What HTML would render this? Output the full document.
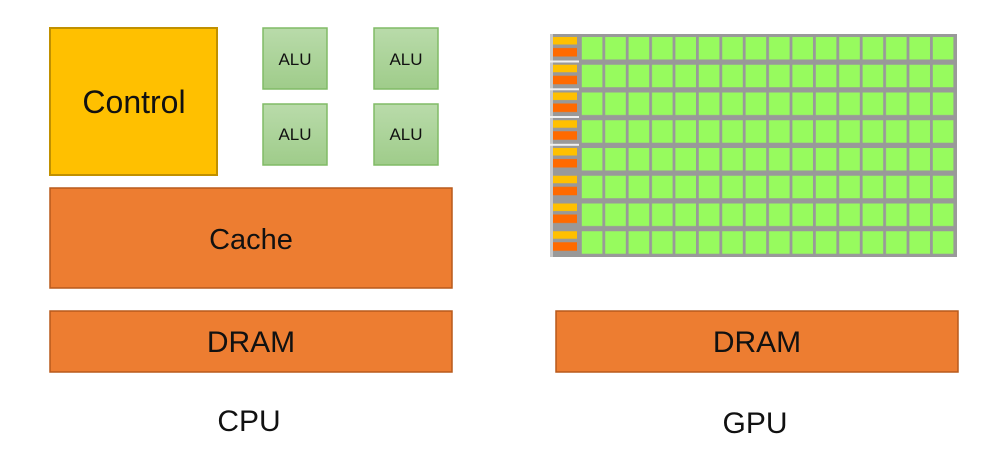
<!DOCTYPE html>
<html><head><meta charset="utf-8"><style>
html,body{margin:0;padding:0;background:#fff;}
svg text{font-family:"Liberation Sans",sans-serif;fill:#111;}
</style></head><body>
<svg width="993" height="465" viewBox="0 0 993 465" xmlns="http://www.w3.org/2000/svg">
<defs>
<linearGradient id="alu" x1="0" y1="0" x2="0" y2="1">
<stop offset="0" stop-color="#b9dbaa"/><stop offset="1" stop-color="#9fcc8a"/>
</linearGradient>
<pattern id="cells" x="581" y="35" width="23.4" height="27.75" patternUnits="userSpaceOnUse">
<rect x="0.8" y="2" width="20.6" height="22.5" fill="#97fb5e"/>
</pattern>
<pattern id="side" x="550" y="35" width="30" height="27.75" patternUnits="userSpaceOnUse">
<rect x="3" y="2" width="24" height="7.5" fill="#ffc000"/>
<rect x="3" y="13" width="24" height="8.5" fill="#ff6a00"/>
</pattern>
</defs>
<rect x="50" y="28" width="167" height="147" fill="#ffc000" stroke="#c09000" stroke-width="2"/>
<text x="134" y="113" font-size="32" text-anchor="middle">Control</text>
<g stroke="#80bb66" stroke-width="1.5" fill="url(#alu)">
<rect x="263" y="28" width="64" height="61"/>
<rect x="374" y="28" width="64" height="61"/>
<rect x="263" y="104" width="64" height="61"/>
<rect x="374" y="104" width="64" height="61"/>
</g>
<g font-size="17" text-anchor="middle">
<text x="295" y="65">ALU</text><text x="406" y="65">ALU</text>
<text x="295" y="140">ALU</text><text x="406" y="140">ALU</text>
</g>
<rect x="50" y="188" width="402" height="100" fill="#ed7d31" stroke="#b85a1c" stroke-width="1.5"/>
<text x="251" y="249" font-size="29" text-anchor="middle">Cache</text>
<rect x="50" y="311" width="402" height="61" fill="#ed7d31" stroke="#b85a1c" stroke-width="1.5"/>
<text x="251" y="352" font-size="30" text-anchor="middle">DRAM</text>
<text x="249" y="431" font-size="30" text-anchor="middle">CPU</text>
<rect x="550" y="34" width="407" height="223" fill="#999"/>
<rect x="550" y="34" width="3" height="223" fill="#c8c8c8"/>
<rect x="581" y="35" width="375" height="222" fill="url(#cells)"/>
<rect x="550" y="35" width="30" height="222" fill="url(#side)"/>
<g fill="#f0f0f0">
<rect x="550" y="60.5" width="29" height="2"/>
<rect x="550" y="88.3" width="29" height="2"/>
<rect x="550" y="116" width="29" height="2"/>
<rect x="550" y="143.8" width="29" height="2"/>
</g>
<rect x="556" y="311" width="402" height="61" fill="#ed7d31" stroke="#b85a1c" stroke-width="1.5"/>
<text x="757" y="352" font-size="30" text-anchor="middle">DRAM</text>
<text x="755" y="433" font-size="30" text-anchor="middle">GPU</text>
</svg>
</body></html>
